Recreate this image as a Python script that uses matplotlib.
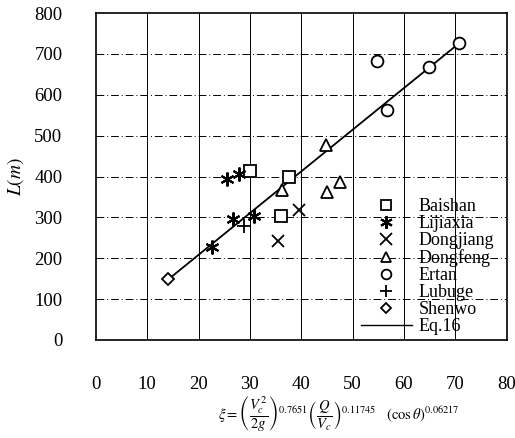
import numpy as np
import matplotlib
matplotlib.use('Agg')
import matplotlib.pyplot as plt
from matplotlib.lines import Line2D

plt.rcParams['font.family'] = 'Liberation Serif'
plt.rcParams['mathtext.fontset'] = 'stix'

# data
baishan_x = [30.0, 37.6, 36.0]
baishan_y = [414, 400, 303]
lijiaxia_x = [25.6, 27.8, 22.6, 26.8, 30.8]
lijiaxia_y = [393, 405, 227, 297, 303]
dongjiang_x = [35.4, 39.6]
dongjiang_y = [242, 319]
dongfeng_x = [36.2, 44.8, 45.0, 47.5]
dongfeng_y = [366, 478, 362, 386]
ertan_x = [54.8, 64.8, 70.8, 56.7]
ertan_y = [683, 667, 727, 563]
lubuge_x = [28.8]
lubuge_y = [280]
shenwo_x = [14.0]
shenwo_y = [148]
eq16_x = [14.3, 70.8]
eq16_y = [150, 727]

fig = plt.figure(figsize=(5.15, 4.38), dpi=100)
ax = fig.add_axes([0.186, 0.224, 0.798, 0.746])

ax.plot(eq16_x, eq16_y, color='black', lw=1.3, zorder=2)

mk = dict(linestyle='none', mfc='white', mec='black', color='black', zorder=3)
ax.plot(baishan_x, baishan_y, marker='s', ms=8, mew=1.3, **mk)
ax.plot(lijiaxia_x, lijiaxia_y, marker=(6, 2, 0), ms=10, mew=1.5, **mk)
ax.plot(dongjiang_x, dongjiang_y, marker='x', ms=9, mew=1.3, **mk)
ax.plot(dongfeng_x, dongfeng_y, marker='^', ms=8, mew=1.3, **mk)
ax.plot(ertan_x, ertan_y, marker='o', ms=8.5, mew=1.3, **mk)
ax.plot(lubuge_x, lubuge_y, marker='+', ms=10, mew=1.3, **mk)
ax.plot(shenwo_x, shenwo_y, marker='D', ms=6, mew=1.3, **mk)

ax.set_xlim(0, 80)
ax.set_ylim(0, 800)
ax.set_xticks(np.arange(0, 81, 10))
ax.set_yticks(np.arange(0, 801, 100))
ax.tick_params(length=0, labelsize=13.5)
ax.tick_params(axis='x', pad=26)
ax.tick_params(axis='y', pad=24)

for xv in range(10, 80, 10):
    ax.axvline(xv, color='black', lw=0.7, zorder=1)
for yv in range(100, 800, 100):
    ax.axhline(yv, color='black', lw=0.7, ls=(0, (8, 3, 1, 3)), zorder=1)

for s in ax.spines.values():
    s.set_linewidth(1.2)

ax.set_ylabel(r'$L(m)$', fontsize=14)
ax.yaxis.set_label_coords(-0.17, 0.5)
ax.set_xlabel(r'$\xi=\left(\dfrac{V_c^{\,2}}{2g}\right)^{0.7651}\left(\dfrac{Q}{V_c}\right)^{0.11745}\quad(\cos\theta)^{0.06217}$',
              fontsize=10.5)
ax.xaxis.set_label_coords(0.59, -0.165)
ax.xaxis.label.set_va('top')

handles = [
    Line2D([], [], marker='s', ms=7, mew=1.3, **mk),
    Line2D([], [], marker=(6, 2, 0), ms=9, mew=1.5, **mk),
    Line2D([], [], marker='x', ms=8, mew=1.3, **mk),
    Line2D([], [], marker='^', ms=7, mew=1.3, **mk),
    Line2D([], [], marker='o', ms=7, mew=1.3, **mk),
    Line2D([], [], marker='+', ms=9, mew=1.3, **mk),
    Line2D([], [], marker='D', ms=5, mew=1.3, **mk),
    Line2D([], [], color='black', lw=1.0),
]
labels = ['Baishan', 'Lijiaxia', 'Dongjiang', 'Dongfeng', 'Ertan', 'Lubuge', 'Shenwo', 'Eq.16']
leg = ax.legend(handles, labels, loc='lower right', frameon=False, fontsize=13,
                handlelength=2.8, handletextpad=0.4, labelspacing=0.0,
                bbox_to_anchor=(1.01, -0.035))
leg.set_zorder(5)

fig.savefig('out.png', dpi=100)
